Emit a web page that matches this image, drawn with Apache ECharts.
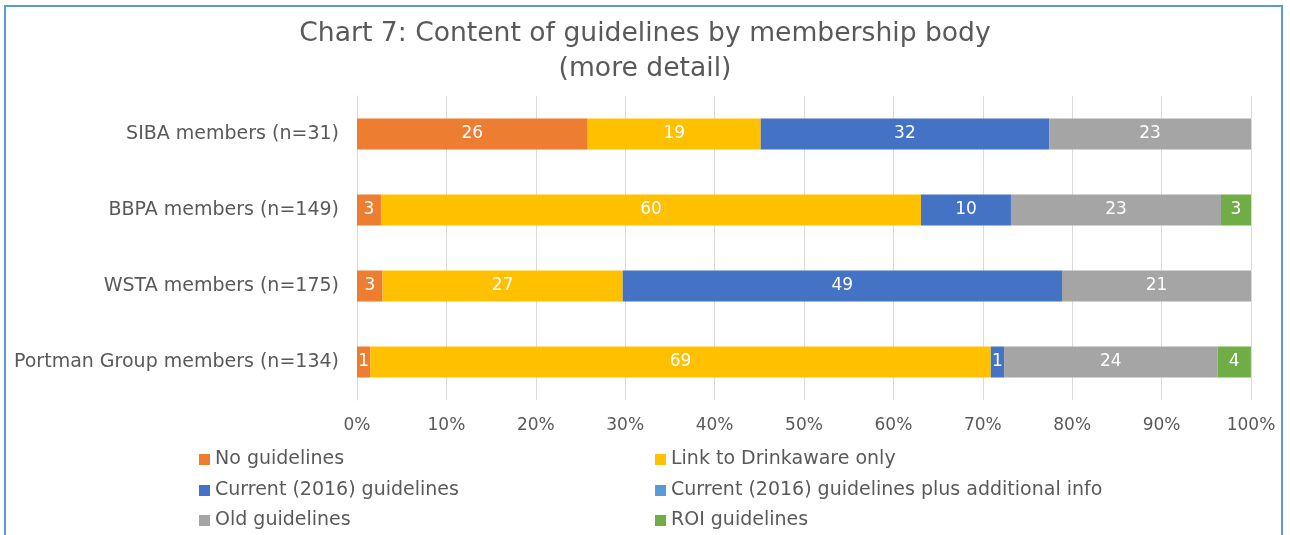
<!DOCTYPE html>
<html>
<head>
<meta charset="utf-8">
<script src="https://cdn.jsdelivr.net/npm/echarts@6/dist/echarts.min.js"></script>
<style>
html,body{margin:0;padding:0;background:#fff;}
#frame{position:absolute;left:4px;top:5px;width:1279px;height:540px;border:2px solid #5b9bd5;box-sizing:border-box;}
#chart{position:absolute;left:0;top:0;width:1290px;height:535px;}
</style>
</head>
<body>
<div id="frame"></div>
<div id="chart"></div>
<script>
// Categories (top to bottom)
const categories = ['SIBA members (n=31)', 'BBPA members (n=149)', 'WSTA members (n=175)', 'Portman Group members (n=134)'];
// Series names
const seriesNames = ['No guidelines', 'Link to Drinkaware only', 'Current (2016) guidelines', 'Current (2016) guidelines plus additional info', 'Old guidelines', 'ROI guidelines'];
// Percent values per series (order matches categories)
const noGuidelines   = [25.81, 2.68, 2.86, 1.49];
const linkDrinkaware = [19.35, 60.40, 26.86, 69.40];
const current2016    = [32.26, 10.07, 49.14, 1.49];
const currentPlus    = [0, 0, 0, 0];
const oldGuidelines  = [22.58, 23.49, 21.14, 23.88];
const roiGuidelines  = [0, 3.36, 0, 3.73];
const xTicks = [0, 10, 20, 30, 40, 50, 60, 70, 80, 90, 100];
const titleLines = ['Chart 7: Content of guidelines by membership body', '(more detail)'];

const colors = ['#ed7d31', '#ffc000', '#4472c4', '#5b9bd5', '#a5a5a5', '#70ad47'];
const values = [noGuidelines, linkDrinkaware, current2016, currentPlus, oldGuidelines, roiGuidelines];
const FONT = 'DejaVu Sans';
const TXT = '#595959';

const series = seriesNames.map((name, i) => ({
  name: name,
  type: 'bar',
  stack: 'total',
  barWidth: 31,
  data: values[i],
  itemStyle: { color: colors[i] },
  label: {
    show: true,
    position: 'inside',
    color: '#fff',
    fontFamily: FONT,
    fontSize: 17,
    formatter: p => p.value > 0 ? String(Math.round(p.value)) : ''
  }
}));

const legendPos = [[199, 450], [655, 450], [199, 481], [655, 481], [199, 511], [655, 511]];
const legends = seriesNames.map((name, i) => ({
  data: [name],
  left: legendPos[i][0],
  top: legendPos[i][1],
  padding: 0,
  icon: 'rect',
  itemWidth: 11,
  itemHeight: 11,
  textStyle: { color: TXT, fontFamily: FONT, fontSize: 19 }
}));

const chart = echarts.init(document.getElementById('chart'), null, { renderer: 'canvas' });
chart.setOption({
  animation: false,
  title: [
    { text: titleLines[0], left: 'center', top: 16, textStyle: { color: TXT, fontFamily: FONT, fontSize: 26.6, fontWeight: 'normal' } },
    { text: titleLines[1], left: 'center', top: 51, textStyle: { color: TXT, fontFamily: FONT, fontSize: 26.6, fontWeight: 'normal' } }
  ],
  legend: legends,
  grid: { left: 357, right: 39, top: 96, bottom: 135, containLabel: false },
  xAxis: {
    type: 'value',
    min: xTicks[0],
    max: xTicks[xTicks.length - 1],
    interval: 10,
    axisLabel: { formatter: '{value}%', color: TXT, fontFamily: FONT, fontSize: 17, margin: 17 },
    splitLine: { lineStyle: { color: '#d9d9d9', width: 1 } },
    axisLine: { show: false },
    axisTick: { show: false }
  },
  yAxis: {
    type: 'category',
    inverse: true,
    data: categories,
    axisLabel: { color: TXT, fontFamily: FONT, fontSize: 19, margin: 18 },
    axisLine: { show: true, lineStyle: { color: '#d9d9d9' } },
    axisTick: { show: false }
  },
  series: series
});
</script>
</body>
</html>
